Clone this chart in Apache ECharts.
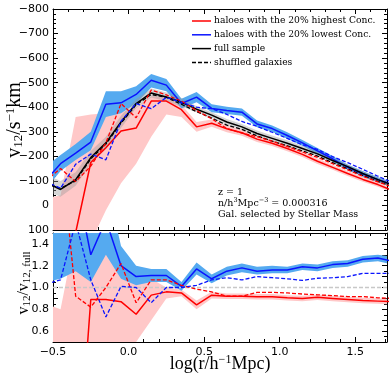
<!DOCTYPE html>
<html>
<head>
<meta charset="utf-8">
<script src="https://cdn.jsdelivr.net/npm/echarts@6/dist/echarts.min.js"></script>
<style>
  html, body { margin: 0; padding: 0; background: #fff; }
  #chart { width: 391px; height: 378px; }
</style>
</head>
<body>
<div id="chart"></div>
<script>
// log(r) bin centres (first and last sit just outside the axis range)
const logR = [-0.55, -0.45, -0.35, -0.25, -0.15, -0.05, 0.05, 0.15, 0.25, 0.35, 0.45, 0.55,
  0.65, 0.75, 0.85, 0.95, 1.05, 1.15, 1.25, 1.35, 1.45, 1.55, 1.65, 1.75]

// top panel: v12 in km/s
const fullV = [-95, -65, -105, -195, -255, -340, -415, -458, -442, -420, -392, -368, -340, -320, -293, -273, -253, -232, -210, -183, -158, -130, -105, -82]
const fullLo = [-60, -35, -80, -170, -230, -315, -397, -440, -424, -402, -380, -356, -328, -308, -281, -261, -241, -221, -199, -172, -148, -120, -95, -72]
const fullHi = [-125, -100, -135, -222, -280, -365, -433, -476, -460, -438, -404, -380, -352, -332, -305, -285, -265, -243, -221, -194, -168, -140, -115, -92]
const shuffledV = [-90, -70, -100, -190, -250, -335, -410, -452, -440, -412, -382, -356, -327, -310, -283, -262, -243, -222, -201, -174, -149, -122, -98, -76]

const highV = [150, 150, 110, -175, -235, -303, -315, -425, -425, -390, -320, -335, -312, -296, -270, -253, -232, -208, -180, -155, -130, -106, -85, -60]
const highLo = [150, 150, 150, 150, 20, -90, -170, -280, -370, -360, -300, -320, -298, -284, -258, -242, -221, -197, -169, -145, -120, -96, -76, -51]
const highHi = [-30, -40, -360, -370, -375, -380, -400, -445, -445, -410, -340, -350, -326, -308, -282, -264, -243, -219, -191, -165, -140, -116, -94, -69]
const highShufV = [-100, -150, -97, -160, -255, -415, -357, -470, -450, -425, -386, -353, -313, -295, -280, -262, -240, -218, -196, -170, -145, -119, -96, -74]

const lowV = [-100, -170, -213, -258, -412, -418, -452, -510, -490, -415, -441, -395, -387, -380, -332, -313, -285, -255, -222, -190, -155, -128, -105, -85]
const lowLo = [-65, -140, -185, -225, -360, -375, -415, -480, -465, -395, -420, -380, -372, -365, -318, -300, -272, -243, -210, -179, -144, -117, -95, -75]
const lowHi = [-160, -205, -250, -300, -465, -465, -485, -535, -515, -435, -462, -412, -402, -395, -346, -326, -298, -267, -234, -201, -166, -139, -115, -95]
const lowShufV = [-98, -70, -168, -209, -186, -343, -415, -394, -440, -420, -400, -394, -371, -342, -322, -298, -273, -247, -228, -199, -174, -147, -119, -93]

// bottom panel: v12 / v12,full
const ratioLow = [1.7, 2.6, 2.0, 1.30, 1.62, 1.20, 1.10, 1.11, 1.11, 1.01, 1.17, 1.08, 1.15, 1.18, 1.15, 1.16, 1.16, 1.19, 1.18, 1.21, 1.22, 1.26, 1.27, 1.24]
const ratioLowLo = [1.05, 1.08, 1.15, 1.05, 1.3, 1.08, 1.02, 1.05, 1.05, 0.97, 1.12, 1.04, 1.11, 1.14, 1.12, 1.13, 1.13, 1.16, 1.15, 1.18, 1.19, 1.23, 1.24, 1.21]
const ratioLowHi = [2.5, 2.5, 2.5, 1.6, 2.0, 1.38, 1.2, 1.17, 1.17, 1.05, 1.23, 1.12, 1.19, 1.22, 1.19, 1.2, 1.19, 1.22, 1.21, 1.24, 1.25, 1.29, 1.3, 1.28]
const ratioLowShuf = [1.03, 1.07, 1.6, 1.07, 0.73, 1.01, 1.0, 0.86, 1.0, 1.0, 1.02, 1.07, 1.09, 1.07, 1.10, 1.09, 1.08, 1.065, 1.085, 1.09, 1.10, 1.13, 1.13, 1.13]
const ratioHigh = [-2, -2, -1, 0.89, 0.89, 0.87, 0.755, 0.93, 0.96, 0.95, 0.84, 0.93, 0.92, 0.92, 0.915, 0.915, 0.905, 0.9, 0.91, 0.9, 0.89, 0.88, 0.875, 0.87]
const ratioHighLo = [0.45, 0.45, 0.2, 0.2, 0.3, 0.4, 0.5, 0.7, 0.9, 0.92, 0.8, 0.9, 0.895, 0.895, 0.89, 0.89, 0.88, 0.875, 0.885, 0.875, 0.865, 0.855, 0.85, 0.845]
const ratioHighHi = [0.85, 0.8, 1.5, 1.6, 1.45, 1.3, 1.05, 1.08, 1.0, 0.98, 0.88, 0.96, 0.945, 0.945, 0.94, 0.94, 0.93, 0.925, 0.935, 0.925, 0.915, 0.905, 0.9, 0.895]
const ratioHighShuf = [1.3, 2.3, 0.92, 0.82, 1.0, 1.22, 0.86, 1.07, 1.07, 1.02, 0.985, 0.96, 0.92, 0.92, 0.955, 0.955, 0.95, 0.94, 0.933, 0.926, 0.917, 0.917, 0.905, 0.9]

const RED = '#ff0000'
const BLUE = '#0a14ff'
const PINK = '#ffc8c8'
const SKY = '#55aaf0'
const tickFont = 'DejaVu Sans'
const serif = 'DejaVu Serif'

function pairs(arr) {
  return logR.map((x, i) => [x, arr[i]])
}

// filled band between lo and hi, one polygon through the axis scales
function band(lo, hi, color, ax) {
  return {
    type: 'custom', xAxisIndex: ax, yAxisIndex: ax, clip: true, silent: true, z: 1,
    data: logR.map((x, i) => [x, lo[i], hi[i]]),
    renderItem: function (params, api) {
      if (params.dataIndex !== 0) return null
      let pts = []
      for (let i = 0; i < logR.length; i++) pts.push(api.coord([logR[i], hi[i]]))
      for (let i = logR.length - 1; i >= 0; i--) pts.push(api.coord([logR[i], lo[i]]))
      return { type: 'polygon', shape: { points: pts }, style: { fill: color } }
    }
  }
}

function line(data, color, dashed, ax) {
  return {
    type: 'line', xAxisIndex: ax, yAxisIndex: ax, data: pairs(data), symbol: 'none',
    silent: true, z: 5,
    lineStyle: { color: color, width: dashed ? 1.3 : 1.5, type: dashed ? [4, 2] : 'solid' }
  }
}

function xAx(grid, pos, labels) {
  return {
    type: 'value', gridIndex: grid, position: pos, min: -0.5, max: 1.71, interval: 0.5,
    axisLine: { onZero: false, lineStyle: { color: '#000', width: 1 } },
    axisTick: { show: true, inside: true, length: 5, lineStyle: { color: '#000' } },
    minorTick: { show: true, splitNumber: 5, length: 3, lineStyle: { color: '#000' } },
    splitLine: { show: false },
    axisLabel: {
      show: labels, showMaxLabel: false, color: '#000', fontFamily: tickFont, fontSize: 11, margin: 5,
      formatter: v => (v < 0 ? '\u2212' + (-v).toFixed(1) : v.toFixed(1))
    }
  }
}

function yAx(grid, pos, labels, opts) {
  return Object.assign({
    type: 'value', gridIndex: grid, position: pos,
    axisLine: { onZero: false, lineStyle: { color: '#000', width: 1 } },
    axisTick: { show: true, inside: true, length: 5, lineStyle: { color: '#000' } },
    splitLine: { show: false }
  }, opts, {
    axisLabel: Object.assign({
      show: labels, color: '#000', fontFamily: tickFont, fontSize: 11, margin: 4
    }, opts.axisLabel || {})
  })
}

let topY = {
  min: -800, max: 100, interval: 100, inverse: true,
  minorTick: { show: true, splitNumber: 5, length: 3, lineStyle: { color: '#000' } },
  axisLabel: { formatter: v => (v < 0 ? '\u2212' + (-v) : '' + v) }
}
let botY = {
  min: 0.5, max: 1.5, interval: 0.1,
  minorTick: { show: true, splitNumber: 2, length: 3, lineStyle: { color: '#000' } },
  axisLabel: {
    formatter: v => {
      let t = Math.round(v * 10)
      return t % 2 === 0 && t < 15 && t > 5 ? (t / 10).toFixed(1) : ''
    }
  }
}

let series = [
  band(highLo, highHi, PINK, 0),
  band(lowLo, lowHi, SKY, 0),
  band(fullLo, fullHi, 'rgba(150,150,150,0.4)', 0),
  line(highV, RED, false, 0),
  line(lowV, BLUE, false, 0),
  line(fullV, '#000', false, 0),
  line(shuffledV, '#000', true, 0),
  line(highShufV, RED, true, 0),
  line(lowShufV, BLUE, true, 0),
  band(ratioHighLo, ratioHighHi, PINK, 2),
  band(ratioLowLo, ratioLowHi, SKY, 2),
  {
    type: 'line', xAxisIndex: 2, yAxisIndex: 2, data: [], silent: true,
    markLine: {
      silent: true, symbol: 'none', label: { show: false },
      lineStyle: { color: '#c8c8c8', type: [4, 2], width: 1.3 },
      data: [{ yAxis: 1 }]
    }
  },
  line(ratioHigh, RED, false, 2),
  line(ratioLow, BLUE, false, 2),
  line(ratioHighShuf, RED, true, 2),
  line(ratioLowShuf, BLUE, true, 2)
]

// legend + annotation drawn as graphics
let legendRows = [
  ['haloes with the 20% highest Conc.', RED, false],
  ['haloes with the 20% lowest Conc.', BLUE, false],
  ['full sample', '#000', false],
  ['shuffled galaxies', '#000', true]
]
let graphics = []
legendRows.forEach((r, i) => {
  let y = 21 + i * 13.8
  graphics.push({
    type: 'line', z: 100, shape: { x1: 192, y1: y, x2: 211, y2: y },
    style: { stroke: r[1], lineWidth: 1.5, lineDash: r[2] ? [4, 2] : null }
  })
  graphics.push({
    type: 'text', z: 100, x: 214, y: y,
    style: { text: r[0], fill: '#000', fontSize: 9.2, fontFamily: serif, verticalAlign: 'middle' }
  })
})
let annot = [
  ['z = 1', 193],
  ['n/h{sup|3}Mpc{sup|\u22123} = 0.000316', 203.5],
  ['Gal. selected by Stellar Mass', 214.5]
]
annot.forEach(a => {
  graphics.push({
    type: 'text', z: 100, x: 218, y: a[1],
    style: {
      text: a[0], fill: '#000', fontSize: 9.5, fontFamily: serif, verticalAlign: 'middle',
      rich: { sup: { fontSize: 6.5, fontFamily: serif, padding: [0, 0, 6, 0] } }
    }
  })
})
graphics.push({
  type: 'text', z: 100, x: 15, y: 120, rotation: Math.PI / 2,
  style: {
    text: 'v{sub|12}/s{sup|\u22121}km', fill: '#000', fontSize: 20, fontFamily: 'Liberation Serif',
    align: 'center', verticalAlign: 'middle',
    rich: {
      sub: { fontSize: 13, fontFamily: 'Liberation Serif', padding: [8, 0, 0, 0] },
      sup: { fontSize: 13, fontFamily: 'Liberation Serif', padding: [0, 0, 9, 0] }
    }
  }
})
graphics.push({
  type: 'text', z: 100, x: 24, y: 283, rotation: Math.PI / 2,
  style: {
    text: 'v{sub|12}/v{sub|12, full}', fill: '#000', fontSize: 16, fontFamily: 'Liberation Serif',
    align: 'center', verticalAlign: 'middle',
    rich: { sub: { fontSize: 11, fontFamily: 'Liberation Serif', padding: [7, 0, 0, 0] } }
  }
})
graphics.push({
  type: 'text', z: 100, x: 220, y: 364,
  style: {
    text: 'log(r/h{sup|\u22121}Mpc)', fill: '#000', fontSize: 18, fontFamily: 'Liberation Serif',
    align: 'center', verticalAlign: 'middle',
    rich: { sup: { fontSize: 12, fontFamily: 'Liberation Serif', padding: [0, 0, 8, 0] } }
  }
})

let chart = echarts.init(document.getElementById('chart'), null, { renderer: 'canvas' })
let option = {
  animation: false,
  backgroundColor: '#fff',
  grid: [
    { left: 53, right: 4, top: 9, height: 221 },
    { left: 53, right: 4, top: 233, height: 109 }
  ],
  xAxis: [
    xAx(0, 'bottom', false),
    xAx(0, 'top', false),
    xAx(1, 'bottom', true),
    xAx(1, 'top', false)
  ],
  yAxis: [
    yAx(0, 'left', true, topY),
    yAx(0, 'right', false, topY),
    yAx(1, 'left', true, botY),
    yAx(1, 'right', false, botY)
  ],
  series: series,
  graphic: graphics
}
chart.setOption(option)
</script>
</body>
</html>
